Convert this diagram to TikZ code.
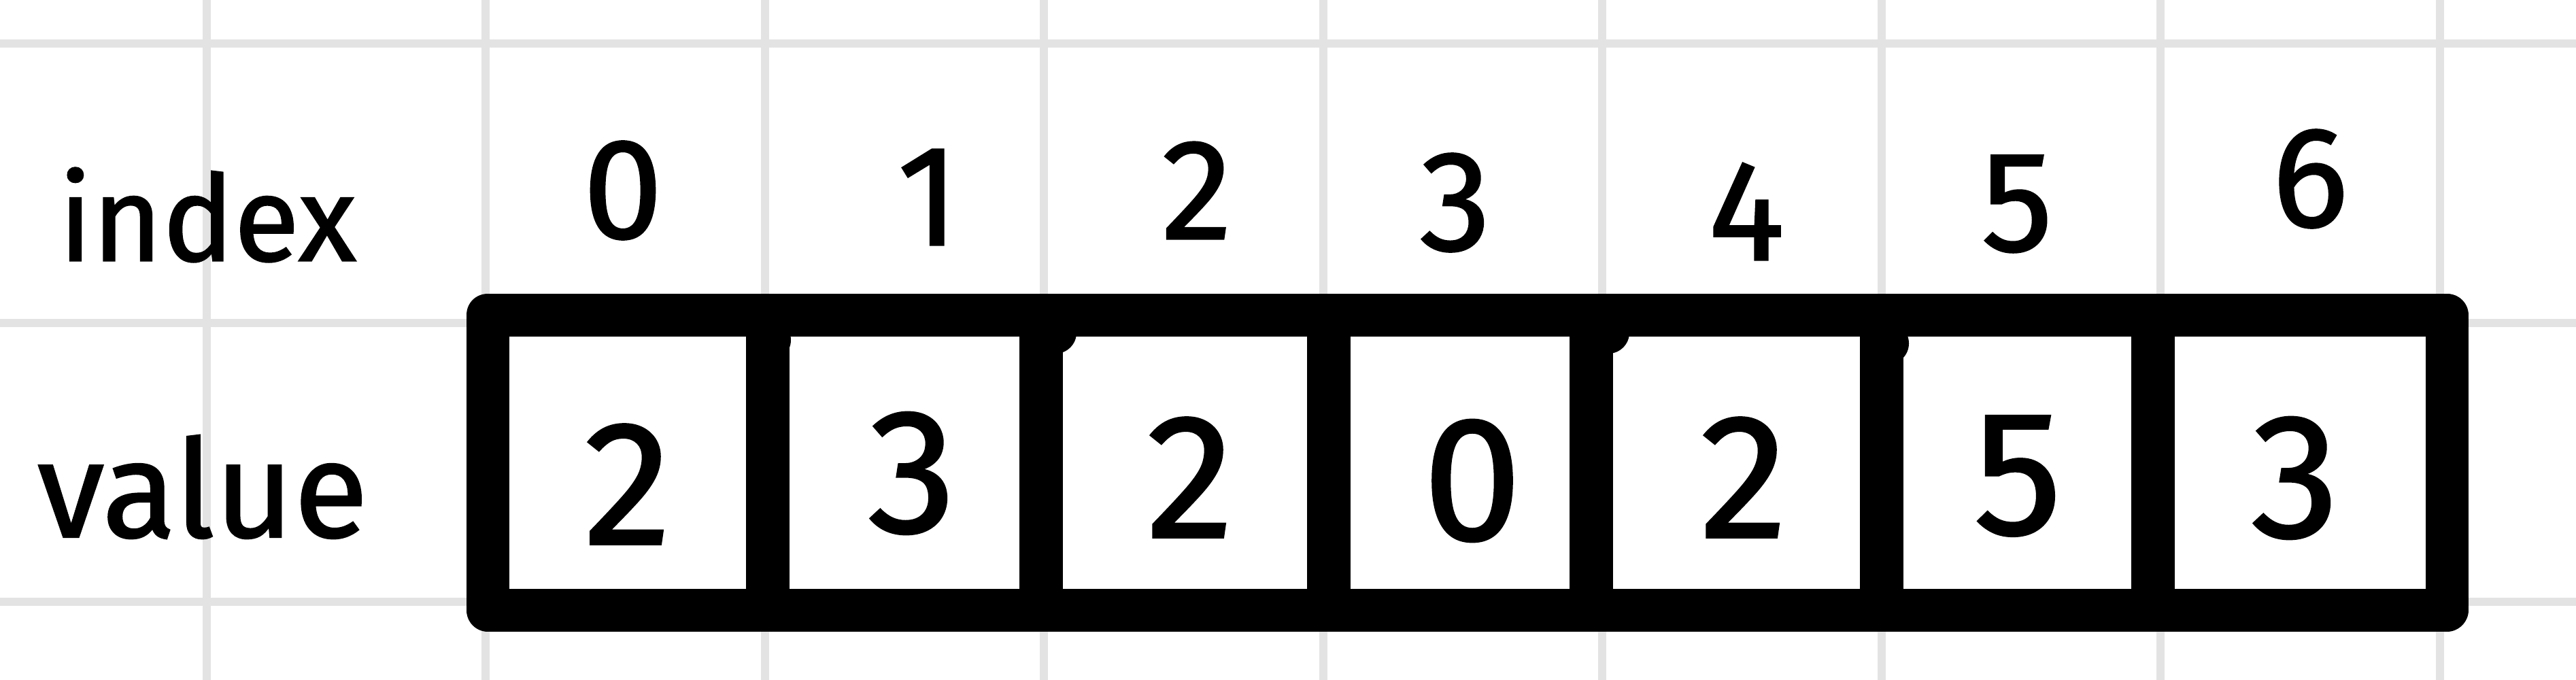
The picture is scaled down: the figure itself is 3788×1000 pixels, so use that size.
\documentclass[tikz,border=0pt]{standalone}
\usepackage{fontspec}
\setmainfont{Fira Sans}[FakeBold=1.2]
\tikzset{
  gridline/.style={line width=6pt, draw=black!11},
  frameline/.style={line width=31.5pt, draw=black, line join=round},
  divline/.style={line width=32pt, draw=black},
  bump/.style={fill=black},
  idxdigit/.style={inner sep=0pt, anchor=center, font=\fontsize{105}{105}\selectfont},
  valdigit/.style={inner sep=0pt, anchor=center, font=\fontsize{130}{130}\selectfont},
  rowlabel/.style={inner sep=0pt, anchor=center, font=\fontsize{88}{88}\selectfont}
}
\begin{document}
\begin{tikzpicture}[x=0.5pt, y=-0.5pt]
\useasboundingbox[fill=white] (0,0) rectangle (3788,1000);
% grid
\foreach \k in {0,...,8} {
  \draw[gridline] ({303.5+410.5*\k},0) -- ({303.5+410.5*\k},1000);
}
\foreach \yy in {64.4,475,885} {
  \draw[gridline] (0,\yy) -- (3788,\yy);
}
% array frame
\coordinate (tl) at (717,463);
\coordinate (br) at (3598,897);
\fill[white] (tl) rectangle (br);
\draw[frameline] (tl) rectangle (br);
% dividers
\foreach \dx in {1128.5,1531,1953.5,2339.5,2767,3165.5} {
  \draw[divline] (\dx,463) -- (\dx,897);
}
% small stroke-start blobs
\fill[bump] (1132,500) circle (31);
\fill[bump] (1552,489) circle (31);
\fill[bump] (2365,489) circle (31);
\fill[bump] (2776,505) circle (31);
% labels
\node[rowlabel] (lidx) at (305,316) {index};
\node[rowlabel, font=\fontsize{100}{100}\selectfont] (lval) at (298,716) {value};
% index digits
\node[idxdigit] (i0) at (916,280) {0};
\node[idxdigit] (i1) at (1365,290) {1};
\node[idxdigit] (i2) at (1760,280) {2};
\node[idxdigit] (i3) at (2140,298) {3};
\node[idxdigit] (i4) at (2568,311) {4};
\node[idxdigit] (i5) at (2966,300) {5};
\node[idxdigit] (i6) at (3397,263) {6};
% value digits
\node[valdigit] (v0) at (923,712) {2};
\node[valdigit] (v1) at (1341,696) {3};
\node[valdigit] (v2) at (1750,702) {2};
\node[valdigit] (v3) at (2165,707) {0};
\node[valdigit] (v4) at (2564,702) {2};
\node[valdigit] (v5) at (2967,700) {5};
\node[valdigit] (v6) at (3375,703) {3};
\end{tikzpicture}
\end{document}
